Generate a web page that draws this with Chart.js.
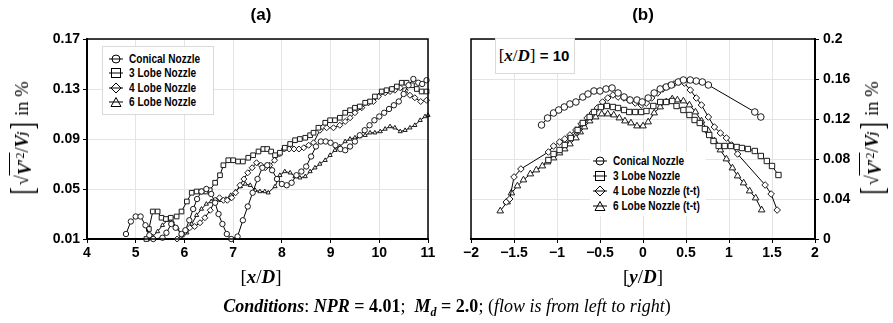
<!DOCTYPE html>
<html>
<head>
<meta charset="utf-8">
<script src="https://cdn.jsdelivr.net/npm/chart.js@4.4.1/dist/chart.umd.min.js"></script>
<style>
  html,body{margin:0;padding:0;background:#fff;}
  #wrap{position:relative;width:893px;height:323px;overflow:hidden;background:#fff;}
  canvas{position:absolute;top:0;}
  .t{position:absolute;white-space:nowrap;color:#000;}
  .ptitle{font-family:"Liberation Sans",Arial,sans-serif;font-weight:bold;font-size:17px;transform:translate(-50%,-50%);}
  .xtitle{font-family:"Liberation Serif","DejaVu Serif",serif;font-size:19px;transform:translate(-50%,-50%);}
  .ytitle{font-family:"Liberation Serif","DejaVu Serif",serif;font-size:18.5px;transform:translate(-50%,-50%) rotate(-90deg);display:flex;align-items:center;}
  .bk{font-size:34px;font-weight:300;line-height:32px;transform:scaleX(0.65);display:inline-block;}
  .ov{border-top:1.5px solid #000;line-height:19px;padding-top:1px;}
  .legbox{position:absolute;background:#fff;}
  .leg{font-family:"Liberation Sans Narrow","Liberation Sans",Arial,sans-serif;font-weight:bold;font-size:12px;}
  .legrow{position:absolute;display:flex;align-items:center;height:14px;}
  .legrow svg{margin-right:6px;}
  .legrow span{display:inline-block;transform:scaleX(0.84);transform-origin:left center;}
  #cap{font-family:"Liberation Serif","DejaVu Serif",serif;font-size:18px;transform:translate(-50%,-50%);}
</style>
</head>
<body>
<div id="wrap">
  <canvas id="ca" width="446" height="323" style="left:0"></canvas>
  <canvas id="cb" width="447" height="323" style="left:446px"></canvas>

  <div class="t ptitle" style="left:261px;top:15px">(a)</div>
  <div class="t ptitle" style="left:643px;top:15px">(b)</div>

  <div class="t xtitle" style="left:261px;top:277px">[<b><i>x</i></b>/<b><i>D</i></b>]</div>
  <div class="t xtitle" style="left:643px;top:277px">[<b><i>y</i></b>/<b><i>D</i></b>]</div>

  <div class="t ytitle" style="left:22px;top:139px"><span class="bk">[</span><span>√</span><span class="ov"><b><i>V</i></b>′<sup style="font-size:12px">2</sup></span><span>/</span><b><i>V</i></b><sub style="font-size:12px"><b><i>j</i></b></sub><span class="bk">]</span><span>&nbsp;in %</span></div>
  <div class="t ytitle" style="left:872px;top:139px"><span class="bk">[</span><span>√</span><span class="ov"><b><i>V</i></b>′<sup style="font-size:12px">2</sup></span><span>/</span><b><i>V</i></b><sub style="font-size:12px"><b><i>j</i></b></sub><span class="bk">]</span><span>&nbsp;in %</span></div>

  <!-- legend (a) -->
  <div class="legbox" style="left:102px;top:46px;width:110px;height:67px;border:1px solid #d9d9d9;"></div>
  <div id="legA"></div>

  <!-- legend (b) -->
  <div class="legbox" style="left:590px;top:152px;width:116px;height:64px;"></div>
  <div id="legB"></div>

  <!-- x/D box in (b) -->
  <div class="legbox" style="left:495px;top:38px;width:78px;height:34px;border:1px solid #d9d9d9;"></div>
  <div class="t" style="left:534px;top:56px;transform:translate(-50%,-50%);font-size:17px;"><span style="font-family:'Liberation Serif',serif;">[<b><i>x</i></b>/<b><i>D</i></b>]</span><span style="font-family:'Liberation Sans',Arial,sans-serif;font-weight:bold;font-size:15px;"> = 10</span></div>

  <div class="t" id="cap" style="left:447px;top:308px"><b><i>Conditions</i></b>: <b><i>NPR</i> = 4.01</b>; &nbsp;<b><i>M<sub style="font-size:12px">d</sub></i> = 2.0</b>; (<i>flow is from left to right</i>)</div>
</div>

<script>
// ---------------- DATA ----------------
const seriesNamesA = ["Conical Nozzle", "3 Lobe Nozzle", "4 Lobe Nozzle", "6 Lobe Nozzle"];
const seriesNamesB = ["Conical Nozzle", "3 Lobe Nozzle", "4 Lobe Nozzle (t-t)", "6 Lobe Nozzle (t-t)"];

// Panel (a): fluctuation vs x/D
const conicalA_x = [4.80,4.90,5.00,5.10,5.20,5.28,5.36,5.55,5.63,5.73,5.82,5.94,6.02,6.10,6.18,6.26,6.35,6.45,6.55,6.63,6.70,6.78,6.87,6.96,7.09,7.20,7.30,7.40,7.50,7.60,7.70,7.80,7.90,8.00,8.10,8.20,8.30,8.40,8.50,8.60,8.70,8.80,8.90,9.00,9.10,9.20,9.30,9.40,9.50,9.60,9.70,9.80,9.90,10.00,10.10,10.20,10.30,10.40,10.50,10.60,10.70,10.80,10.88,10.97];
const conicalA_y = [0.014,0.024,0.028,0.028,0.021,0.013,0.010,0.011,0.015,0.022,0.019,0.014,0.017,0.025,0.034,0.042,0.048,0.050,0.046,0.039,0.030,0.022,0.014,0.010,0.012,0.025,0.036,0.047,0.058,0.067,0.069,0.065,0.058,0.054,0.053,0.055,0.061,0.064,0.068,0.076,0.084,0.088,0.088,0.087,0.085,0.082,0.081,0.084,0.088,0.093,0.097,0.101,0.105,0.108,0.111,0.114,0.117,0.120,0.126,0.133,0.138,0.135,0.134,0.137];

const lobe3A_x = [5.22,5.27,5.35,5.45,5.53,5.62,5.72,5.84,5.94,6.05,6.15,6.25,6.35,6.45,6.52,6.63,6.73,6.80,6.90,7.00,7.10,7.20,7.31,7.41,7.52,7.62,7.70,7.78,7.86,7.96,8.06,8.17,8.27,8.37,8.48,8.58,8.65,8.75,8.89,8.99,9.09,9.19,9.30,9.40,9.50,9.60,9.71,9.81,9.91,10.05,10.15,10.26,10.36,10.46,10.56,10.67,10.77,10.87,10.97];
const lobe3A_y = [0.010,0.018,0.032,0.032,0.027,0.026,0.027,0.028,0.032,0.040,0.047,0.048,0.048,0.048,0.049,0.055,0.061,0.069,0.073,0.073,0.072,0.072,0.075,0.077,0.080,0.082,0.082,0.080,0.077,0.079,0.083,0.086,0.089,0.090,0.091,0.093,0.095,0.099,0.103,0.105,0.105,0.107,0.111,0.113,0.115,0.116,0.119,0.120,0.124,0.128,0.129,0.130,0.132,0.135,0.135,0.133,0.130,0.128,0.128];

const lobe4A_x = [5.85,5.95,6.02,6.11,6.21,6.32,6.42,6.53,6.63,6.72,6.80,6.88,6.97,7.05,7.14,7.22,7.30,7.39,7.48,7.57,7.66,7.75,7.85,7.95,8.05,8.15,8.25,8.35,8.45,8.55,8.65,8.78,8.92,9.06,9.19,9.30,9.40,9.50,9.64,9.78,9.88,9.98,10.12,10.22,10.32,10.43,10.53,10.63,10.73,10.85,10.97];
const lobe4A_y = [0.010,0.013,0.016,0.019,0.020,0.023,0.027,0.033,0.041,0.043,0.041,0.041,0.043,0.047,0.053,0.058,0.063,0.067,0.071,0.069,0.067,0.069,0.073,0.078,0.082,0.082,0.082,0.082,0.083,0.085,0.087,0.097,0.099,0.099,0.101,0.104,0.107,0.111,0.115,0.119,0.120,0.124,0.127,0.128,0.129,0.131,0.129,0.125,0.123,0.120,0.121];

const lobe6A_x = [5.25,5.35,5.45,5.55,5.65,5.75,5.85,5.95,6.05,6.15,6.25,6.35,6.45,6.55,6.65,6.75,6.85,6.95,7.05,7.15,7.25,7.35,7.45,7.55,7.65,7.72,7.86,7.96,8.06,8.17,8.27,8.37,8.48,8.58,8.68,8.78,8.89,8.99,9.09,9.19,9.30,9.40,9.50,9.60,9.71,9.81,9.91,10.02,10.12,10.22,10.32,10.43,10.53,10.63,10.73,10.84,10.94,11.00];
const lobe6A_y = [0.010,0.012,0.016,0.021,0.025,0.024,0.019,0.013,0.015,0.022,0.029,0.034,0.038,0.040,0.041,0.041,0.042,0.045,0.048,0.052,0.054,0.053,0.049,0.048,0.048,0.047,0.052,0.061,0.064,0.063,0.060,0.059,0.060,0.064,0.067,0.070,0.073,0.077,0.081,0.084,0.088,0.090,0.091,0.092,0.093,0.095,0.095,0.096,0.098,0.100,0.099,0.096,0.097,0.099,0.101,0.105,0.108,0.109];

// Panel (b): fluctuation vs y/D at x/D = 10
const conicalB_x = [-1.18,-1.11,-1.04,-0.98,-0.915,-0.85,-0.78,-0.70,-0.64,-0.57,-0.50,-0.43,-0.36,-0.29,-0.22,-0.15,-0.07,-0.01,0.06,0.13,0.20,0.27,0.33,0.41,0.47,0.55,0.62,0.69,0.76,1.30,1.37];
const conicalB_y = [0.114,0.121,0.126,0.129,0.132,0.135,0.137,0.142,0.145,0.148,0.148,0.150,0.151,0.146,0.142,0.139,0.139,0.137,0.141,0.146,0.150,0.152,0.154,0.157,0.159,0.159,0.158,0.157,0.154,0.127,0.122];

const lobe3B_x = [-1.10,-1.04,-0.97,-0.91,-0.84,-0.76,-0.70,-0.62,-0.57,-0.49,-0.42,-0.35,-0.29,-0.22,-0.16,-0.09,-0.02,0.04,0.12,0.20,0.27,0.34,0.39,0.47,0.54,0.60,0.66,0.72,0.77,0.82,0.88,0.95,1.02,1.09,1.15,1.22,1.30,1.37,1.44,1.50,1.575];
const lobe3B_y = [0.079,0.085,0.089,0.094,0.101,0.109,0.116,0.122,0.127,0.132,0.133,0.132,0.131,0.129,0.127,0.127,0.127,0.128,0.133,0.137,0.137,0.138,0.133,0.129,0.124,0.119,0.116,0.110,0.104,0.098,0.093,0.093,0.093,0.092,0.091,0.090,0.088,0.083,0.078,0.073,0.064];

const lobe4B_x = [-1.59,-1.55,-1.50,-1.42,-1.10,-1.04,-0.97,-0.91,-0.85,-0.78,-0.72,-0.65,-0.59,-0.53,-0.47,-0.41,-0.35,-0.29,-0.22,-0.16,-0.09,-0.02,0.04,0.10,0.17,0.23,0.30,0.36,0.42,0.48,0.55,0.62,0.68,0.76,0.83,0.90,0.97,1.03,1.10,1.42,1.49,1.56];
const lobe4B_y = [0.037,0.040,0.062,0.070,0.087,0.093,0.097,0.100,0.104,0.109,0.115,0.121,0.126,0.131,0.137,0.141,0.144,0.142,0.141,0.139,0.136,0.134,0.136,0.141,0.146,0.150,0.153,0.155,0.157,0.156,0.149,0.141,0.134,0.122,0.112,0.106,0.101,0.094,0.085,0.054,0.045,0.029];

const lobe6B_x = [-1.66,-1.58,-1.53,-1.46,-1.39,-1.31,-1.24,-1.17,-1.11,-1.04,-0.97,-0.91,-0.85,-0.78,-0.73,-0.68,-0.62,-0.55,-0.48,-0.41,-0.34,-0.275,-0.21,-0.14,-0.07,0.00,0.06,0.13,0.20,0.27,0.34,0.40,0.47,0.54,0.61,0.68,0.76,0.83,0.90,0.97,1.04,1.10,1.17,1.24,1.31,1.38];
const lobe6B_y = [0.028,0.037,0.046,0.053,0.059,0.065,0.069,0.073,0.077,0.081,0.086,0.090,0.095,0.101,0.107,0.112,0.118,0.122,0.125,0.125,0.124,0.121,0.118,0.116,0.113,0.113,0.117,0.126,0.132,0.137,0.140,0.139,0.138,0.134,0.127,0.118,0.108,0.098,0.089,0.080,0.071,0.063,0.056,0.048,0.041,0.029];

// Ticks
const xTicksA = [4,5,6,7,8,9,10,11];
const xTickLabelsA = ["4","5","6","7","8","9","10","11"];
const yTicksA = [0.01,0.05,0.09,0.13,0.17];
const yTickLabelsA = ["0.01","0.05","0.09","0.13","0.17"];
const xTicksB = [-2,-1.5,-1,-0.5,0,0.5,1,1.5,2];
const xTickLabelsB = ["\u22122","\u22121.5","\u22121","\u22120.5","0","0.5","1","1.5","2"];
const yTicksB = [0,0.04,0.08,0.12,0.16,0.2];
const yTickLabelsB = ["0","0.04","0.08","0.12","0.16","0.2"];

// ---------------- STYLE ----------------
const markerStyles = ['circle','rect','rectRot','triangle'];
const radiiA = [2.7, 3.3, 3.0, 2.4];
const radiiB = [3.3, 3.8, 3.3, 3.8];
const tickFont = {family:'"Liberation Sans", Arial, sans-serif', size:14, weight:'bold'};

function pts(xs, ys){ return xs.map((x,i)=>({x:x, y:ys[i]})); }
function ds(name, xs, ys, k, radii){
  return {label:name, data:pts(xs,ys), showLine:true, borderColor:'#000', borderWidth:1,
    pointStyle:markerStyles[k], pointRadius:radii[k], pointBackgroundColor:'#fff',
    pointBorderColor:'#1a1a1a', pointBorderWidth:1, clip:6};
}

const framePlugin = {id:'frame', afterDraw(chart){
  const a = chart.chartArea, c = chart.ctx;
  c.save(); c.strokeStyle='#000'; c.lineWidth=1.5;
  c.strokeRect(a.left, a.top, a.right-a.left, a.bottom-a.top);
  c.restore();
}};

function axis(min, max, ticks, labels, pad, opts){
  return Object.assign({
    type:'linear', min:min, max:max,
    afterBuildTicks: s => { s.ticks = ticks.map(v=>({value:v})); },
    ticks:{font:tickFont, color:'#000', autoSkip:false, maxRotation:0, padding:pad,
      callback:(v,i)=>labels[i]},
    grid:{color:'#e4e4e4', lineWidth:1, tickColor:'#000', tickLength:4},
    border:{color:'#000', width:2}
  }, opts);
}

// Chart (a)
new Chart(document.getElementById('ca'), {
  type:'scatter',
  data:{datasets:[
    ds(seriesNamesA[0], conicalA_x, conicalA_y, 0, radiiA),
    ds(seriesNamesA[1], lobe3A_x, lobe3A_y, 1, radiiA),
    ds(seriesNamesA[2], lobe4A_x, lobe4A_y, 2, radiiA),
    ds(seriesNamesA[3], lobe6A_x, lobe6A_y, 3, radiiA)
  ]},
  options:{
    responsive:false, animation:false, devicePixelRatio:1,
    layout:{padding:{left:47, right:18, top:39, bottom:59}},
    plugins:{legend:{display:false}, tooltip:{enabled:false}},
    scales:{
      x: axis(4, 11, xTicksA, xTickLabelsA, 2, {afterFit: s=>{s.height=25;}}),
      y: axis(0.01, 0.17, yTicksA, yTickLabelsA, 3, {afterFit: s=>{s.width=40;}})
    }
  },
  plugins:[framePlugin]
});

// Chart (b)
new Chart(document.getElementById('cb'), {
  type:'scatter',
  data:{datasets:[
    ds(seriesNamesB[0], conicalB_x, conicalB_y, 0, radiiB),
    ds(seriesNamesB[1], lobe3B_x, lobe3B_y, 1, radiiB),
    ds(seriesNamesB[2], lobe4B_x, lobe4B_y, 2, radiiB),
    ds(seriesNamesB[3], lobe6B_x, lobe6B_y, 3, radiiB)
  ]},
  options:{
    responsive:false, animation:false, devicePixelRatio:1,
    layout:{padding:{left:25, right:38, top:39, bottom:59}},
    plugins:{legend:{display:false}, tooltip:{enabled:false}},
    scales:{
      x: axis(-2, 2, xTicksB, xTickLabelsB, 2, {afterFit: s=>{s.height=25;}}),
      y: axis(0, 0.2, yTicksB, yTickLabelsB, 4, {position:'right', afterFit: s=>{s.width=40;}})
    }
  },
  plugins:[framePlugin]
});

// ---------------- HTML LEGENDS (markers match dataset styles) ----------------
function markerSVG(k){
  const line = '<line x1="0" y1="6" x2="14" y2="6" stroke="#000" stroke-width="1"/>';
  let m='';
  if(k===0) m='<circle cx="7" cy="6" r="4" fill="#fff" stroke="#000"/>';
  if(k===1) m='<rect x="2.5" y="1.5" width="9" height="9" fill="#fff" stroke="#000"/>';
  if(k===2) m='<polygon points="7,1 12,6 7,11 2,6" fill="#fff" stroke="#000"/>';
  if(k===3) m='<polygon points="7,1.5 12,10.5 2,10.5" fill="#fff" stroke="#000"/>';
  return '<svg width="14" height="12" viewBox="0 0 14 12">'+m+line+'</svg>';
}
function buildLegend(id, names, left, tops){
  const el = document.getElementById(id);
  names.forEach((n,k)=>{
    const r = document.createElement('div');
    r.className='legrow leg';
    r.style.left = left+'px'; r.style.top = (tops[k]-7)+'px';
    r.innerHTML = markerSVG(k)+'<span>'+n+'</span>';
    el.appendChild(r);
  });
}
buildLegend('legA', seriesNamesA, 109, [59,73,88,102]);
buildLegend('legB', seriesNamesB, 593, [161,176,191,206]);
</script>
</body>
</html>
